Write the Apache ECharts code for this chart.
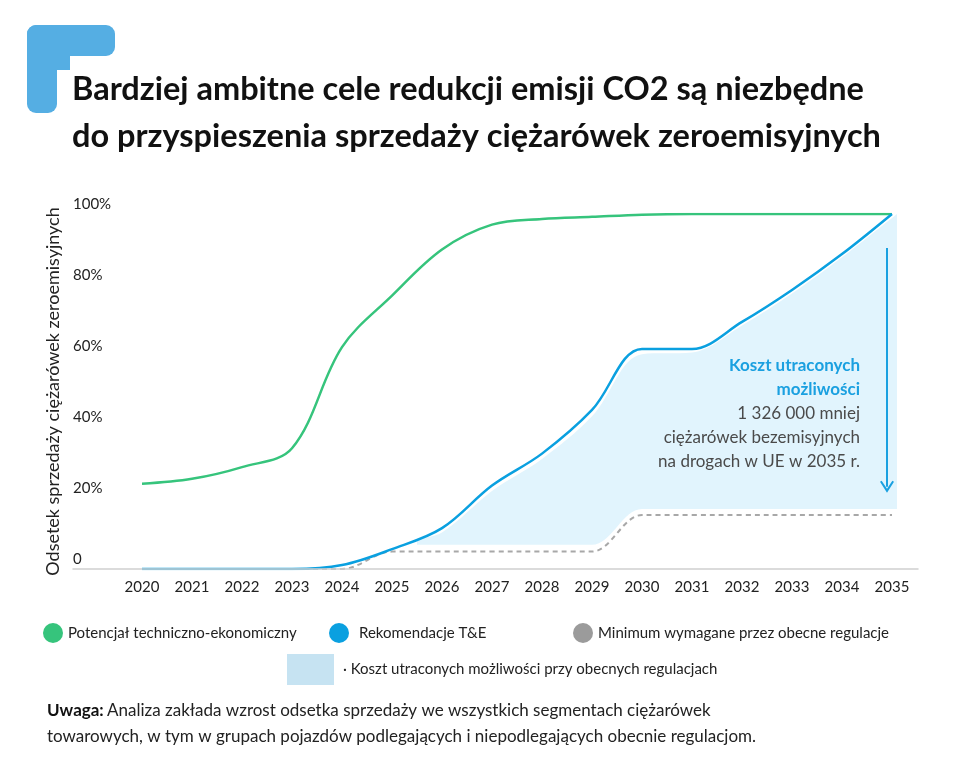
<!DOCTYPE html>
<html>
<head>
<meta charset="utf-8">
<script src="https://cdn.jsdelivr.net/npm/echarts@6/dist/echarts.min.js"></script>
<style>
html,body{margin:0;padding:0;background:#fff;}
#chart{width:960px;height:768px;}
</style>
</head>
<body>
<div id="chart"></div>
<script>
const years = [2020,2021,2022,2023,2024,2025,2026,2027,2028,2029,2030,2031,2032,2033,2034,2035];
const potential = [24,25.4,28.7,34,62.5,77,90,97,98.6,99.2,99.8,100,100,100,100,100];
const recommended = [0,0,0,0,1.1,5.6,11.5,23.5,32.5,44.8,62,62,69.6,78.6,88.7,100];
const regulation = [0,0,0,0,0,4.9,4.9,4.9,4.9,4.9,15.2,15.2,15.2,15.2,15.2,15.2];
const gapYears = [2025.5,2026,2027,2028,2029,2030,2031,2032,2033,2034,2035.1];
const gapUpper = [8.5,10.3,22,31,43,60.5,61,68.6,77.6,87.8,100];
const gapLower = [6.8,6.8,6.8,6.8,6.8,16.9,16.9,16.9,16.9,16.9,16.9];
const yTicks = [0,20,40,60,80,100];
const arrowX = 2034.9, arrowFrom = 90.4, arrowTo = 23.2;

const names = {
  pot: 'Potencjał techniczno-ekonomiczny',
  rec: 'Rekomendacje T&E',
  reg: 'Minimum wymagane przez obecne regulacje',
  gap: 'Koszt utraconych możliwości przy obecnych regulacjach'
};
const FONT = 'Lato';
const pair = (xs, ys) => xs.map((x, i) => [x, ys[i]]);

const chart = echarts.init(document.getElementById('chart'), null, {renderer: 'canvas'});
const legendText = {fontFamily: FONT, fontSize: 15, color: '#222'};
const SM = 0.35;
chart.setOption({
  backgroundColor: '#fff',
  animation: false,
  grid: {left: 73, right: 42, top: 214, bottom: 199},
  xAxis: {
    type: 'value', min: 2018.62, max: 2035.52, z: 5,
    axisLine: {show: true, lineStyle: {color: '#cfcfcf', width: 1.5}},
    axisTick: {show: false},
    splitLine: {show: false},
    axisLabel: {customValues: years, fontFamily: FONT, fontSize: 15, color: '#222', margin: 11, formatter: v => String(v)}
  },
  yAxis: {
    type: 'value', min: 0, max: 100, interval: 20,
    name: 'Odsetek sprzedaży ciężarówek zeroemisyjnych',
    nameLocation: 'middle', nameGap: 10,
    nameTextStyle: {fontFamily: FONT, fontSize: 18, color: '#222'},
    axisLine: {show: false}, axisTick: {show: false}, splitLine: {show: false},
    axisLabel: {inside: true, margin: 0, align: 'left', verticalAlign: 'bottom', padding: [0,0,2,0],
      fontFamily: FONT, fontSize: 15, color: '#222', customValues: yTicks,
      formatter: v => v === 0 ? '0' : v + '%'}
  },
  legend: [
    {data: [{name: names.pot, itemStyle: {color: '#36c47c', borderWidth: 0}}], left: 43, top: 623, padding: 0, icon: 'circle', itemWidth: 20, itemHeight: 20, textStyle: legendText, selectedMode: false},
    {data: [{name: names.rec, itemStyle: {color: '#0aa0e0', borderWidth: 0}}], left: 329, top: 623, padding: 0, icon: 'circle', itemWidth: 20, itemHeight: 20, textStyle: Object.assign({padding: [0,0,0,5]}, legendText), selectedMode: false},
    {data: [{name: names.reg, itemStyle: {color: '#9b9b9b', borderWidth: 0}}], left: 573, top: 623, padding: 0, icon: 'circle', itemWidth: 20, itemHeight: 20, textStyle: legendText, selectedMode: false},
    {data: [{name: names.gap, itemStyle: {color: '#c6e3f2', borderWidth: 0}}], left: 287, top: 654, padding: 0, icon: 'rect', itemWidth: 47, itemHeight: 31, textStyle: Object.assign({padding: [0,0,0,4]}, legendText), formatter: n => '· ' + n, selectedMode: false}
  ],
  series: [
    {name: names.gap, type: 'line', data: pair(gapYears, gapUpper), smooth: SM, symbol: 'none',
      lineStyle: {width: 0}, itemStyle: {color: '#c6e3f2'}, areaStyle: {color: '#e1f4fd', opacity: 1, origin: 'start'}, silent: true},
    {name: 'gap-base', type: 'line', data: pair(gapYears, gapLower), smooth: SM, symbol: 'none',
      lineStyle: {width: 0}, areaStyle: {color: '#ffffff', opacity: 1, origin: 'start'}, silent: true},
    {name: names.reg, type: 'line', data: pair(years, regulation), smooth: SM, symbol: 'none',
      itemStyle: {color: '#9b9b9b'}, lineStyle: {color: '#a8a8a8', width: 2, type: [5, 4]}},
    {name: names.pot, type: 'line', data: pair(years, potential), smooth: SM, symbol: 'none',
      itemStyle: {color: '#36c47c'}, lineStyle: {color: '#36c47c', width: 2.5}},
    {name: names.rec, type: 'line', data: pair(years, recommended), smooth: SM, symbol: 'none',
      itemStyle: {color: '#0aa0e0'}, lineStyle: {color: '#0aa0e0', width: 2.5},
      markLine: {silent: true, symbol: ['none', 'path://M6,0 L12,9 L10.6,10 L6,3.2 L1.4,10 L0,9 Z'], symbolSize: [14, 12],
        label: {show: false}, lineStyle: {color: '#1aa0e0', width: 2, type: 'solid'},
        data: [[{coord: [arrowX, arrowFrom]}, {coord: [arrowX, arrowTo]}]]}}
  ],
  graphic: [
    {type: 'rect', shape: {x: 27, y: 25, width: 88, height: 31, r: 9}, style: {fill: '#55aee3'}},
    {type: 'rect', shape: {x: 27, y: 25, width: 30, height: 88, r: 9}, style: {fill: '#55aee3'}},
    {type: 'rect', shape: {x: 40, y: 40, width: 30, height: 30}, style: {fill: '#55aee3'}},
    {type: 'text', left: 72, top: 73, style: {text: 'Bardziej ambitne cele redukcji emisji CO2 są niezbędne', fontFamily: FONT, fontWeight: 'bold', fontSize: 32.5, fill: '#111'}},
    {type: 'text', left: 72, top: 120, style: {text: 'do przyspieszenia sprzedaży ciężarówek zeroemisyjnych', fontFamily: FONT, fontWeight: 'bold', fontSize: 32.5, fill: '#111'}},
    {type: 'text', right: 100, top: 357, z: 20, style: {
      text: '{b|Koszt utraconych}\n{b|możliwości}\n{n|1 326 000 mniej}\n{n|ciężarówek bezemisyjnych}\n{n|na drogach w UE w 2035 r.}',
      align: 'right',
      rich: {
        b: {fontFamily: FONT, fontWeight: 'bold', fontSize: 17, fill: '#1aa0e0', lineHeight: 24, align: 'right'},
        n: {fontFamily: FONT, fontSize: 17, fill: '#4a4a4a', lineHeight: 24, align: 'right'}
      }}},
    {type: 'text', left: 47, top: 702, style: {
      text: '{b|Uwaga:} {n|Analiza zakłada wzrost odsetka sprzedaży we wszystkich segmentach ciężarówek}\n{n|towarowych, w tym w grupach pojazdów podlegających i niepodlegających obecnie regulacjom.}',
      rich: {
        b: {fontFamily: FONT, fontWeight: 'bold', fontSize: 17, fill: '#111', lineHeight: 26},
        n: {fontFamily: FONT, fontSize: 17, fill: '#222', lineHeight: 26}
      }}}
  ]
});
</script>
</body>
</html>
